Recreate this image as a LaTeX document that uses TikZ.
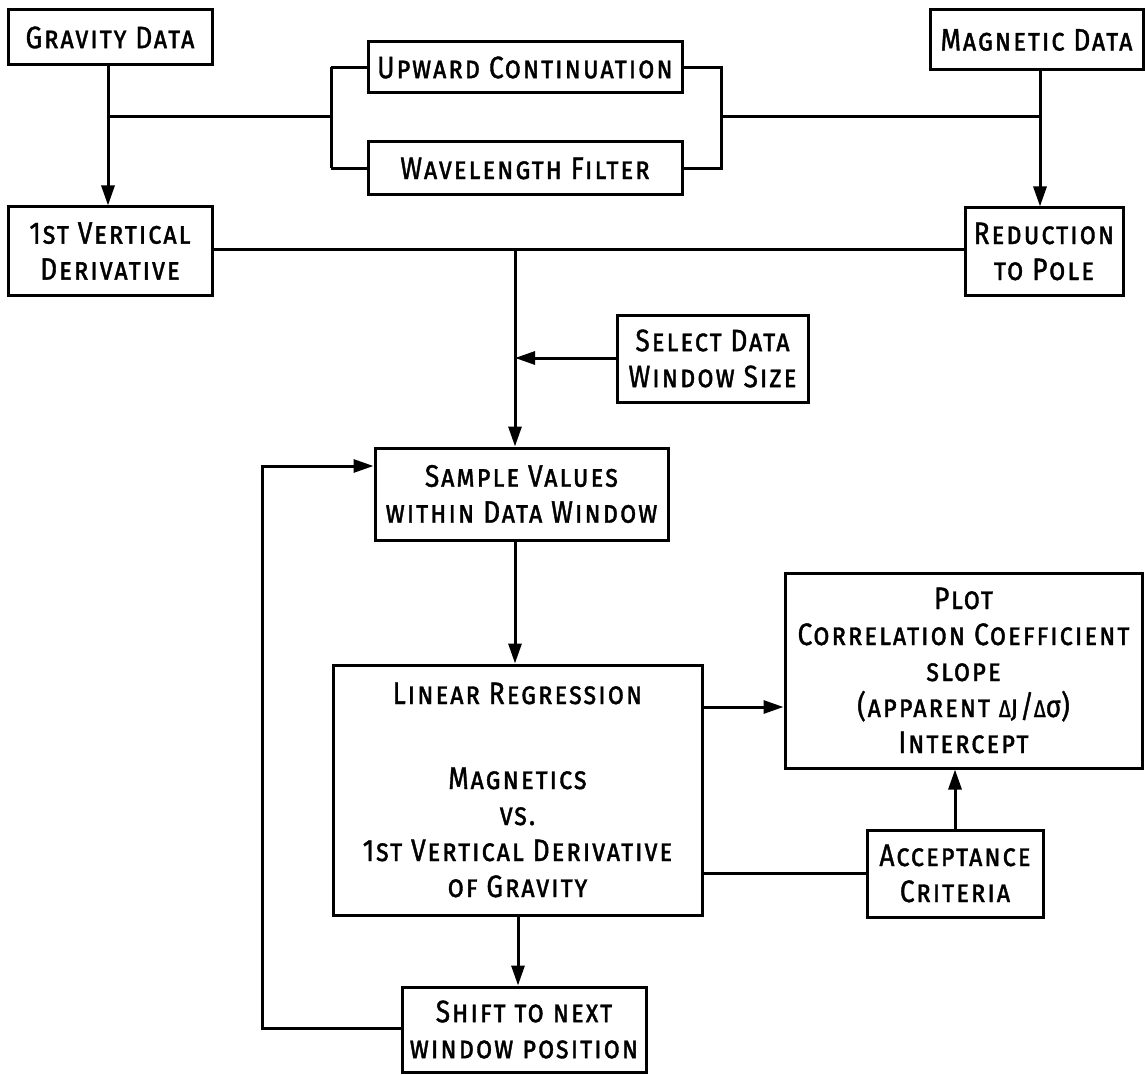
\documentclass[tikz,border=0pt]{standalone}
\usepackage{fontspec}
\setmainfont{Fira Sans}[LetterSpace=6,FakeStretch=0.85,FakeBold=1.2]
\usetikzlibrary{arrows.meta}
\newcommand\smD{{\fontsize{24}{36}\selectfont Δ}}
\begin{document}
\begin{tikzpicture}[x=1pt,y=-1pt,
  box/.style={draw,line width=3pt,inner sep=0pt,align=center,
    font=\fontsize{31}{36}\selectfont\scshape},
  ln/.style={line width=3pt},
  arr/.style={line width=3pt,-{Triangle[length=20pt,width=13pt]}}]
\useasboundingbox (0,0) rectangle (1145,1075);
% nodes
\node[box,minimum width=204pt,minimum height=55pt] (grav) at (110,37.5) {Gravity Data};
\node[box,minimum width=204pt,minimum height=88pt] (vd) at (110,251) {1st Vertical\\Derivative};
\node[box,minimum width=314pt,minimum height=51pt] (up) at (525,67.5) {Upward Continuation};
\node[box,minimum width=314pt,minimum height=53pt] (wave) at (525,168.5) {Wavelength Filter};
\node[box,minimum width=213pt,minimum height=60pt] (mag) at (1036.5,40) {Magnetic Data};
\node[box,minimum width=158pt,minimum height=87pt] (red) at (1044,251.5) {Reduction\\to Pole};
\node[box,minimum width=191pt,minimum height=87pt] (sel) at (712.5,358.5) {Select Data\\Window Size};
\node[box,minimum width=293pt,minimum height=92pt] (samp) at (521.5,494) {Sample Values\\within Data Window};
\node[box,minimum width=369pt,minimum height=250pt] (lr) at (517.5,790) {Linear Regression\\[49pt]Magnetics\\vs.\\1st Vertical Derivative\\of Gravity};
\node[box,minimum width=244pt,minimum height=85pt] (shift) at (524,1029.5) {Shift to next\\window position};
\node[box,minimum width=357pt,minimum height=195pt] (plot) at (963.5,670.5) {Plot\\Correlation Coefficient\\slope\\(apparent \smD j/\smD{\upshape σ})\\Intercept};
\node[box,minimum width=176pt,minimum height=87pt] (acc) at (955,873.5) {Acceptance\\Criteria};
% coordinates
\coordinate (jg) at (108,117);
\coordinate (jl) at (331,117);
\coordinate (jr) at (721,117);
\coordinate (jm) at (1040,117);
\coordinate (jv) at (515,250);
\coordinate (js) at (515,358);
\coordinate (jb) at (518,950);
\coordinate (lp) at (262,1028);
% connectors
\draw[arr] (grav.south -| jg) -- (vd.north -| jg);
\draw[ln] (jg) -- (jl);
\draw[ln] (up.west -| jl) -- (wave.west -| jl);
\draw[ln] (up.west -| jl) -- (up.west);
\draw[ln] (wave.west -| jl) -- (wave.west);
\draw[ln] (up.east) -- (up.east -| jr) -- (wave.east -| jr) -- (wave.east);
\draw[ln] (jr) -- (jm);
\draw[arr] (mag.south -| jm) -- (red.north -| jm);
\draw[ln] (vd.east |- jv) -- (red.west |- jv);
\draw[arr] (jv) -- (samp.north -| jv);
\draw[arr] (sel.west |- js) -- (js);
\draw[arr] (samp.south -| jv) -- (lr.north -| jv);
\draw[arr] (lr.south -| jb) -- (shift.north -| jb);
\draw[arr] (shift.west |- lp) -- (lp) -- (lp |- 0,466) -- (samp.west |- 0,466);
\draw[arr] (lr.east |- 0,707) -- (plot.west |- 0,707);
\draw[ln] (lr.east |- 0,873) -- (acc.west |- 0,873);
\draw[arr] (acc.north) -- (plot.south -| acc.north);
\end{tikzpicture}
\end{document}
